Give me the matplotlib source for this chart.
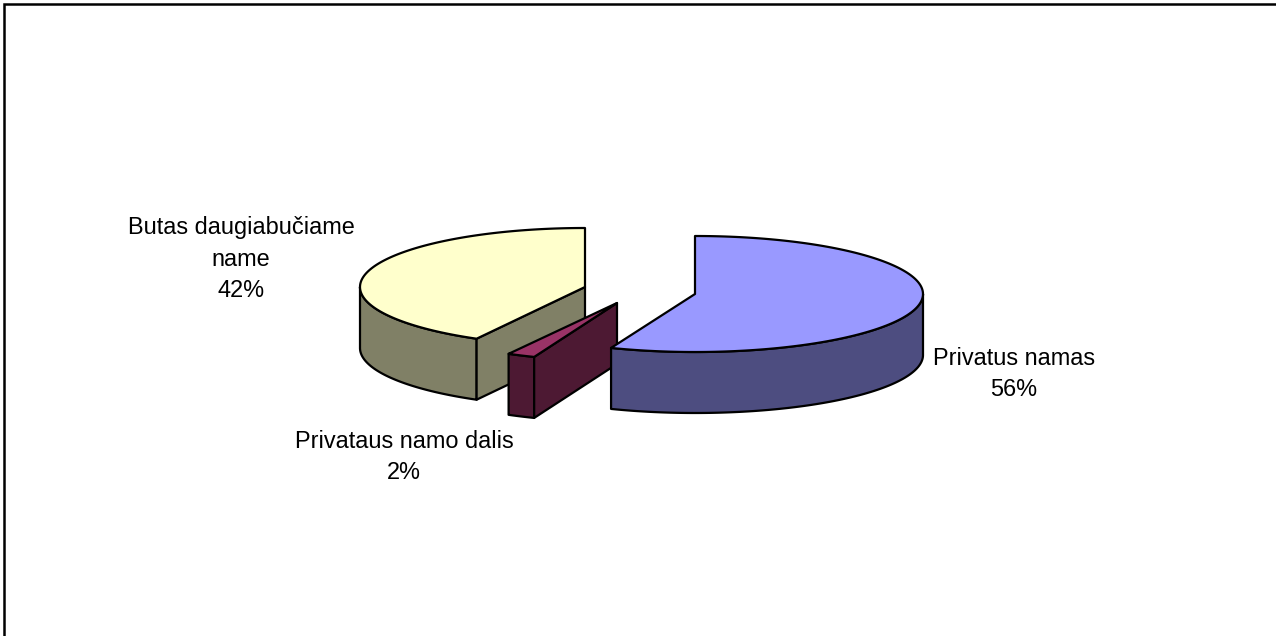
import numpy as np
import matplotlib
matplotlib.use("Agg")
import matplotlib.pyplot as plt
from matplotlib.patches import Polygon

categories = ["Privatus namas", "Privataus namo dalis", "Butas daugiabučiame\nname"]
values = [56, 2, 42]
top_colors = ["#9999ff", "#993366", "#ffffcc"]
side_colors = ["#4d4d80", "#4d1933", "#808066"]

W, H = 1276, 636
# exploded apex of each slice, in pixels
apex = [(695, 294), (617, 303), (585, 287)]
RX = [228, 225, 225]
RY = [58, 58, 59]
DEPTH = 61
LW = 1.6

fig = plt.figure(figsize=(W / 100, H / 100), dpi=100)
ax = fig.add_axes([0, 0, 1, 1])
ax.set_xlim(0, W)
ax.set_ylim(H, 0)
ax.axis("off")
plt.rcParams["font.family"] = ["Liberation Sans", "DejaVu Sans"]

# frame: only the top and left edges fall inside the image
ax.plot([4, 4, W + 5], [H + 5, 4, 4], color="black", lw=1.8, solid_joinstyle="miter")


def arc(i, a0, a1, n=160):
    t = np.radians(np.linspace(a0, a1, n))
    return apex[i][0] + RX[i] * np.sin(t), apex[i][1] - RY[i] * np.cos(t)


def poly(xs, ys, color, z):
    ax.add_patch(Polygon(np.column_stack([xs, ys]), closed=True, facecolor=color,
                         edgecolor="black", lw=LW, joinstyle="round", zorder=z))


edges = np.concatenate([[0], np.cumsum(values)]) * 3.6

# slice 3: yellow (back left)
i = 2
a0, a1 = edges[2], edges[3]
ax_, ay_ = apex[i]
x, y = arc(i, a0, 270)
poly(np.r_[x, x[::-1]], np.r_[y, y[::-1] + DEPTH], side_colors[i], 1)
ox, oy = arc(i, a0, a0, 2)
poly([ax_, ox[0], ox[0], ax_], [ay_, oy[0], oy[0] + DEPTH, ay_ + DEPTH], side_colors[i], 1)
x, y = arc(i, a0, a1)
poly(np.r_[ax_, x], np.r_[ay_, y], top_colors[i], 2)

# slice 2: maroon (exploded)
i = 1
a0, a1 = edges[1], edges[2]
ax_, ay_ = apex[i]
x, y = arc(i, a0, a1, 20)
poly(np.r_[x, x[::-1]], np.r_[y, y[::-1] + DEPTH], side_colors[i], 3)
poly([ax_, x[0], x[0], ax_], [ay_, y[0], y[0] + DEPTH, ay_ + DEPTH], side_colors[i], 3)
poly(np.r_[ax_, x], np.r_[ay_, y], top_colors[i], 4)

# slice 1: blue (front right)
i = 0
a0, a1 = edges[0], edges[1]
ax_, ay_ = apex[i]
x, y = arc(i, 90, a1)
poly(np.r_[x, x[::-1]], np.r_[y, y[::-1] + DEPTH], side_colors[i], 5)
x, y = arc(i, a0, a1)
poly(np.r_[ax_, x], np.r_[ay_, y], top_colors[i], 6)

# labels
label_pos = [(1014, 374), (404, 457), (241, 259)]
for c, v, (lx, ly) in zip(categories, values, label_pos):
    ax.text(lx, ly, f"{c}\n{v}%", ha="center", va="center", fontsize=16.9,
            linespacing=1.49, color="black", zorder=10)

fig.savefig("out.png", dpi=100, facecolor="white")
